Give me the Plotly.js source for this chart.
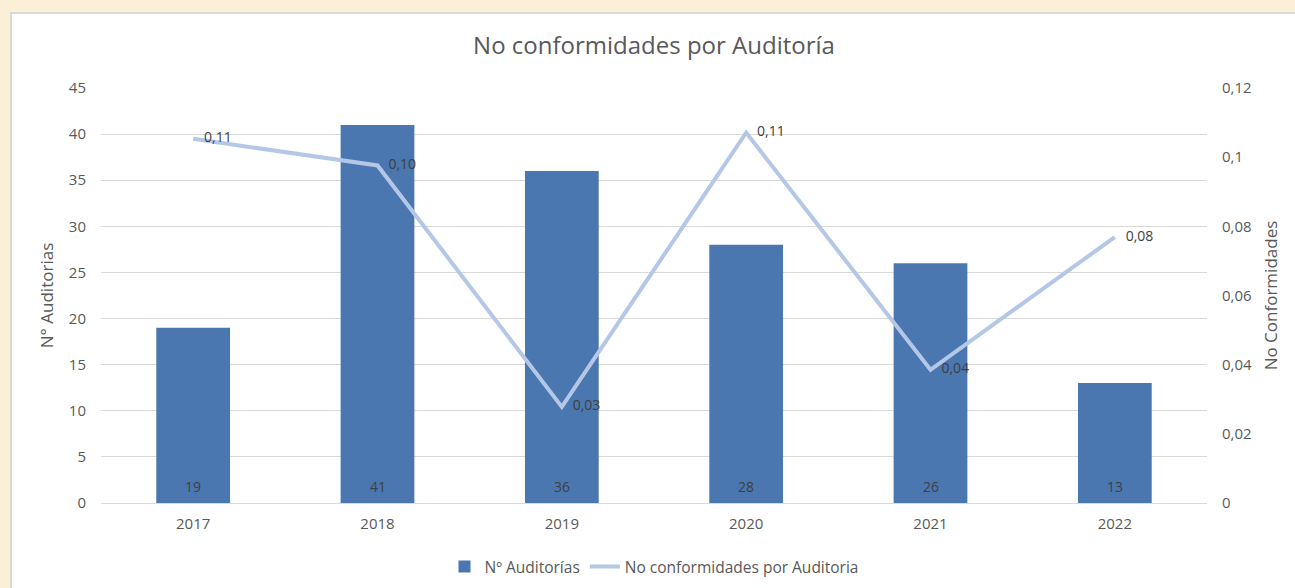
<!DOCTYPE html>
<html>
<head>
<meta charset="utf-8">
<script src="https://cdn.plot.ly/plotly-3.0.1.min.js"></script>
<style>
  body { margin: 0; background: #fcefd8; width: 1295px; height: 588px; overflow: hidden; }
  #chart { position: absolute; left: 10px; top: 12px; width: 1285px; height: 576px;
           background: #fff; border-left: 2px solid #d9d9d9; border-top: 2px solid #d9d9d9; }
</style>
</head>
<body>
<div id="chart"></div>
<script>
const years = ["2017", "2018", "2019", "2020", "2021", "2022"];
const auditorias = [19, 41, 36, 28, 26, 13];
const ncPorAuditoria = [0.1053, 0.0976, 0.0278, 0.1071, 0.0385, 0.0769];

const grey = "#595959";
const fontFam = "'Open Sans', Lato, sans-serif";

const bars = {
  x: years,
  y: auditorias,
  type: "bar",
  name: "Nº Auditorías",
  marker: { color: "#4a77b0" },
  hoverinfo: "x+y"
};

const line = {
  x: years,
  y: ncPorAuditoria,
  type: "scatter",
  mode: "lines+text",
  name: "No conformidades por Auditoria",
  yaxis: "y2",
  line: { color: "#b4c7e7", width: 4 },
  texttemplate: "   %{y:.2f}",
  textposition: "middle right",
  textfont: { color: "#404040", size: 14, family: fontFam }
};

// bar value labels near the base of each bar
const barLabels = years.map((yr, i) => ({
  x: yr,
  y: 0,
  xref: "x",
  yref: "y",
  text: String(auditorias[i]),
  showarrow: false,
  yanchor: "middle",
  yshift: 17,
  font: { color: "#404040", size: 14, family: fontFam }
}));

const layout = {
  width: 1284,
  height: 575,
  margin: { l: 89, r: 89, t: 74, b: 86 },
  paper_bgcolor: "#ffffff",
  plot_bgcolor: "#ffffff",
  separators: ",.",
  font: { family: fontFam, color: grey, size: 14 },
  title: {
    text: "No conformidades por Auditoría",
    font: { size: 24, color: grey, family: fontFam },
    x: 0.5, xanchor: "center",
    y: 1 - 32 / 575, yanchor: "middle"
  },
  bargap: 0.6,
  showlegend: true,
  legend: {
    orientation: "h",
    x: 0.5, xanchor: "center",
    yref: "container",
    y: 22 / 575, yanchor: "middle",
    font: { size: 15.5, color: grey },
    traceorder: "normal"
  },
  annotations: barLabels,
  xaxis: {
    showgrid: false,
    showline: false,
    ticks: "",
    ticklabelstandoff: 10,
    tickfont: { size: 15, color: grey }
  },
  yaxis: {
    range: [0, 45],
    dtick: 5,
    gridcolor: "#d9d9d9",
    zerolinecolor: "#d9d9d9",
    ticks: "",
    ticklabelstandoff: 14,
    tickfont: { size: 15, color: grey },
    title: { text: "N° Auditorias", font: { size: 17, color: grey }, standoff: 10 }
  },
  yaxis2: {
    range: [0, 0.12],
    dtick: 0.02,
    overlaying: "y",
    side: "right",
    showgrid: false,
    zeroline: false,
    ticks: "",
    ticklabelstandoff: 14,
    tickfont: { size: 15, color: grey },
    title: { text: "No Conformidades", font: { size: 17, color: grey }, standoff: 14 }
  }
};

Plotly.newPlot("chart", [bars, line], layout, { displayModeBar: false });
</script>
</body>
</html>
